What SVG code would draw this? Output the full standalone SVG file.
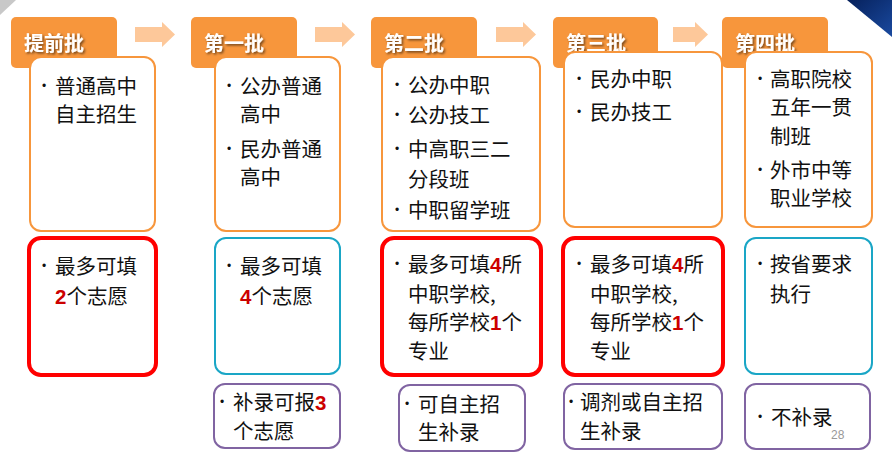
<svg xmlns="http://www.w3.org/2000/svg" width="892" height="457" viewBox="0 0 892 457">
<defs>
<filter id="sh" x="-10%" y="-20%" width="130%" height="150%">
<feDropShadow dx="1.5" dy="1.5" stdDeviation="0.8" flood-color="#000" flood-opacity="0.55"/>
</filter>
<linearGradient id="bl" x1="0" y1="0" x2="1" y2="1">
<stop offset="0" stop-color="#06215c"/>
<stop offset="1" stop-color="#1a4aa0"/>
</linearGradient>
</defs>
<style>
.tab{fill:#F7963C}
.hd{font-family:"Noto Sans CJK SC","Noto Sans",sans-serif;font-size:20px;font-weight:bold;fill:#fff}
.ob{fill:#fff;stroke:#F7963C;stroke-width:2}
.rb{fill:#fff;stroke:#FF0000;stroke-width:4}
.cb{fill:#fff;stroke:#1AA6C6;stroke-width:2}
.pb{fill:#fff;stroke:#8064A2;stroke-width:2}
.t{font-family:"Noto Sans CJK SC","Noto Sans",sans-serif;font-size:20.5px;fill:#111}
.bu{font-family:"Liberation Sans",sans-serif;font-size:12px;fill:#111}
.n{font-family:"Liberation Sans",Arial,sans-serif;font-weight:bold;fill:#CC0000}
.arr{fill:#FDC89A}
</style>
<rect width="892" height="457" fill="#fff"/>
<polygon points="0,0 16,0 0,15" fill="#c8c8c8"/>
<polygon points="847,0 892,0 892,37" fill="url(#bl)"/>

<g id="connectors">
<polygon class="arr" points="135,27 162,27 162,22 175,34.5 162,47 162,42 135,42"/>
<polygon class="arr" points="315,27 342,27 342,22 355,34.5 342,47 342,42 315,42"/>
<polygon class="arr" points="496,27 523,27 523,22 536,34.5 523,47 523,42 496,42"/>
<polygon class="arr" points="673,27 695,27 695,22 708,34.5 695,47 695,42 673,42"/>
</g>

<g id="tab1"><rect class="tab" x="11" y="17" width="106" height="51" rx="5"/><text class="hd" x="24" y="51" filter="url(#sh)">提前批</text></g>
<g id="tab2"><rect class="tab" x="191" y="17" width="106" height="51" rx="5"/><text class="hd" x="204" y="51" filter="url(#sh)">第一批</text></g>
<g id="tab3"><rect class="tab" x="371" y="17" width="106" height="51" rx="5"/><text class="hd" x="384" y="51" filter="url(#sh)">第二批</text></g>
<g id="tab4"><rect class="tab" x="553" y="17" width="105" height="51" rx="5"/><text class="hd" x="566" y="51" filter="url(#sh)">第三批</text></g>
<g id="tab5"><rect class="tab" x="722" y="17" width="106" height="51" rx="5"/><text class="hd" x="735" y="51" filter="url(#sh)">第四批</text></g>

<g id="top1"><rect class="ob" x="30" y="57" width="125" height="174" rx="11"/>
<text class="bu" x="42" y="90">•</text>
<text class="t" x="55" y="94">普通高中</text><text class="t" x="55" y="122">自主招生</text></g>

<g id="top2"><rect class="ob" x="215" y="57" width="125" height="174" rx="11"/>
<text class="bu" x="227" y="90">•</text>
<text class="t" x="240" y="94">公办普通</text><text class="t" x="240" y="122">高中</text>
<text class="bu" x="227" y="153">•</text>
<text class="t" x="240" y="157">民办普通</text><text class="t" x="240" y="185">高中</text></g>

<g id="top3"><rect class="ob" x="382" y="57" width="158" height="174" rx="11"/>
<text class="bu" x="395" y="89">•</text><text class="t" x="408" y="93">公办中职</text>
<text class="bu" x="395" y="119">•</text><text class="t" x="408" y="123">公办技工</text>
<text class="bu" x="395" y="153">•</text><text class="t" x="408" y="157">中高职三二</text><text class="t" x="408" y="187">分段班</text>
<text class="bu" x="395" y="214">•</text><text class="t" x="408" y="218">中职留学班</text></g>

<g id="top4"><rect class="ob" x="564" y="52" width="158" height="175" rx="11"/>
<text class="bu" x="577" y="83">•</text><text class="t" x="590" y="87">民办中职</text>
<text class="bu" x="577" y="116">•</text><text class="t" x="590" y="120">民办技工</text></g>

<g id="top5"><rect class="ob" x="745" y="52" width="127" height="175" rx="11"/>
<text class="bu" x="758" y="83">•</text><text class="t" x="770" y="87">高职院校</text><text class="t" x="770" y="115">五年一贯</text><text class="t" x="770" y="144">制班</text>
<text class="bu" x="758" y="174">•</text><text class="t" x="770" y="178">外市中等</text><text class="t" x="770" y="206">职业学校</text></g>

<g id="mid1"><rect class="rb" x="29" y="238" width="127" height="137" rx="12"/>
<text class="bu" x="42" y="270">•</text><text class="t" x="55" y="274">最多可填</text>
<text class="t" x="55" y="304"><tspan class="n">2</tspan>个志愿</text></g>

<g id="mid2"><rect class="cb" x="215" y="238" width="125" height="136" rx="11"/>
<text class="bu" x="227" y="270">•</text><text class="t" x="240" y="274">最多可填</text>
<text class="t" x="240" y="304"><tspan class="n">4</tspan>个志愿</text></g>

<g id="mid3"><rect class="rb" x="382" y="238" width="159" height="137" rx="12"/>
<text class="bu" x="395" y="268">•</text><text class="t" x="408" y="272">最多可填<tspan class="n">4</tspan>所</text>
<text class="t" x="408" y="302">中职学校,</text>
<text class="t" x="408" y="330">每所学校<tspan class="n">1</tspan>个</text>
<text class="t" x="408" y="359">专业</text></g>

<g id="mid4"><rect class="rb" x="563" y="238" width="160" height="137" rx="12"/>
<text class="bu" x="577" y="268">•</text><text class="t" x="590" y="272">最多可填<tspan class="n">4</tspan>所</text>
<text class="t" x="590" y="302">中职学校,</text>
<text class="t" x="590" y="330">每所学校<tspan class="n">1</tspan>个</text>
<text class="t" x="590" y="359">专业</text></g>

<g id="mid5"><rect class="cb" x="745" y="238" width="127" height="136" rx="11"/>
<text class="bu" x="758" y="268">•</text><text class="t" x="770" y="272">按省要求</text>
<text class="t" x="770" y="302">执行</text></g>

<g id="low2"><rect class="pb" x="214" y="384" width="126" height="64" rx="11"/>
<text class="bu" x="220" y="406">•</text><text class="t" x="233" y="410">补录可报<tspan class="n">3</tspan></text>
<text class="t" x="233" y="439">个志愿</text></g>

<g id="low3"><rect class="pb" x="399" y="385" width="126" height="66" rx="11"/>
<text class="bu" x="405" y="408">•</text><text class="t" x="418" y="412">可自主招</text>
<text class="t" x="418" y="440">生补录</text></g>

<g id="low4"><rect class="pb" x="564" y="384" width="158" height="65" rx="11"/>
<text class="bu" x="569" y="406">•</text><text class="t" x="580" y="410">调剂或自主招</text>
<text class="t" x="580" y="439">生补录</text></g>

<g id="low5"><rect class="pb" x="745" y="384" width="125" height="65" rx="11"/>
<text class="bu" x="758" y="421">•</text><text class="t" x="771" y="425">不补录</text></g>

<text x="831" y="439" font-family="Liberation Sans,Arial,sans-serif" font-size="12" fill="#999">28</text>
</svg>
